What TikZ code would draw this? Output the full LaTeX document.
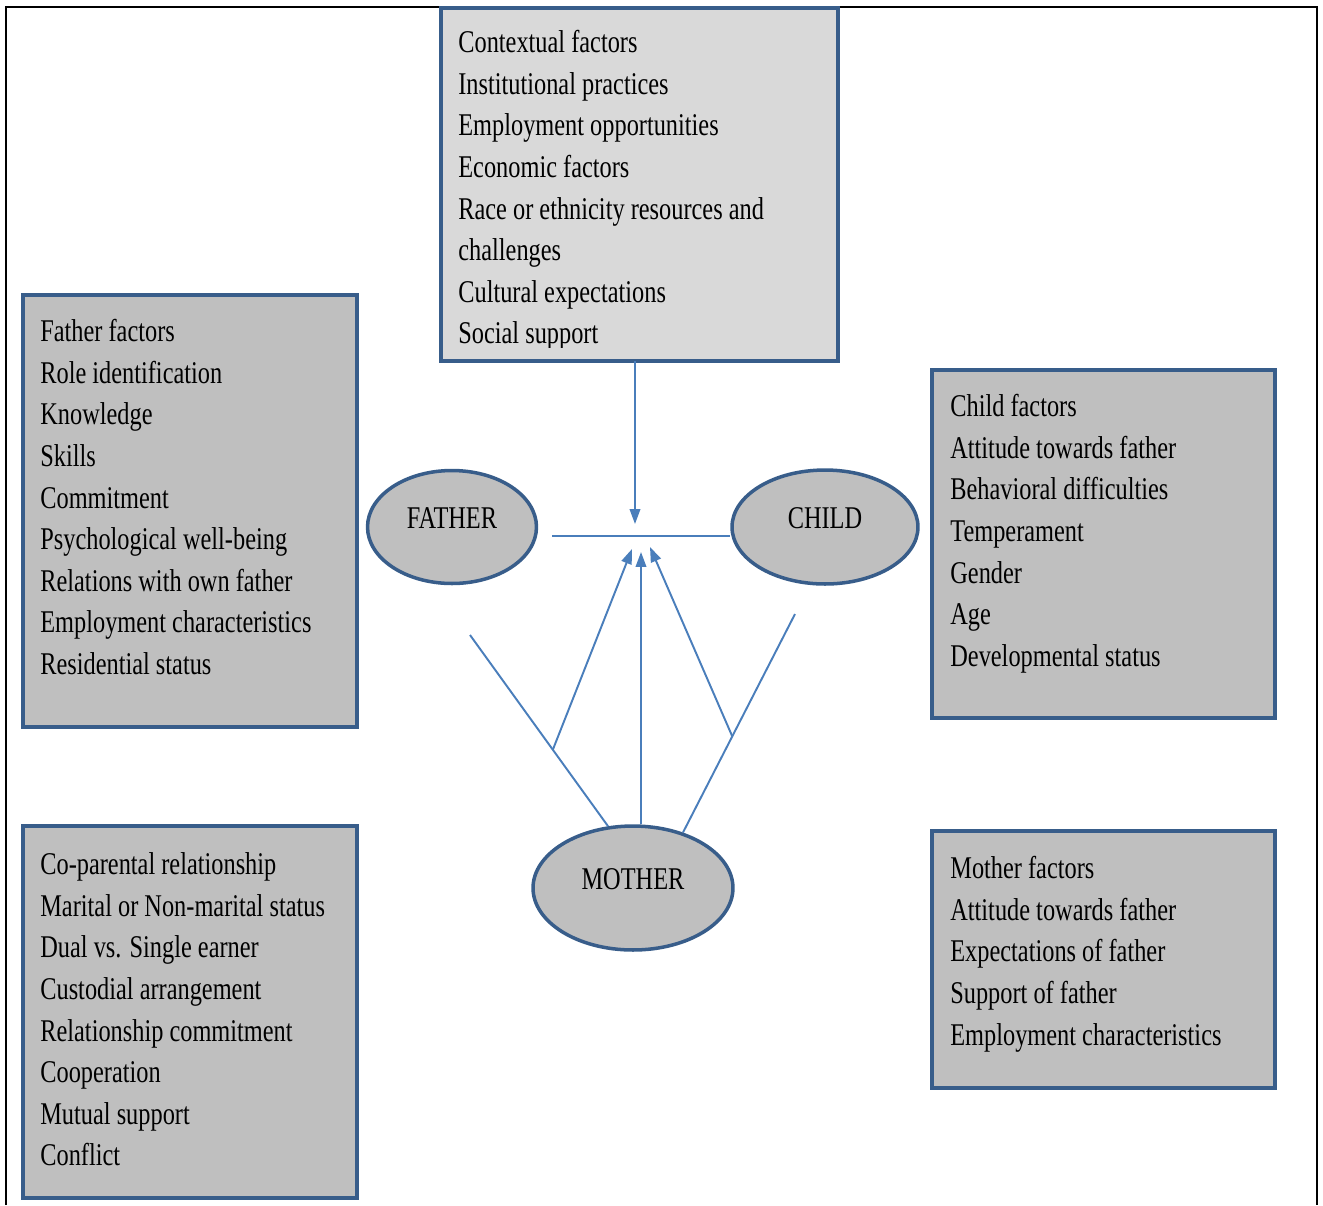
\documentclass[tikz,border=0pt]{standalone}
\usepackage{fontspec}
\newfontfamily\narrowserif[FakeStretch=0.77]{Liberation Serif}
\usetikzlibrary{calc}
\usetikzlibrary{shapes.geometric}
\usetikzlibrary{arrows.meta}
\definecolor{boxblue}{RGB}{56,93,138}
\definecolor{linkblue}{RGB}{74,126,187}
\definecolor{boxgray}{RGB}{191,191,191}
\definecolor{ctxgray}{RGB}{217,217,217}
\newcommand{\boxfont}{\narrowserif\fontsize{18pt}{23.7pt}\selectfont}
\newcommand{\firstrule}{\rule{0pt}{14pt}}

\begin{document}
\begin{tikzpicture}[x=0.02cm,y=-0.02cm,
	factorbox/.style={draw=boxblue,line width=2.2pt,fill=boxgray,anchor=north west,inner sep=0pt,outer sep=0pt},
	factortext/.style={anchor=north west,align=left,inner sep=0pt,font=\boxfont},
	parent/.style={ellipse,draw=boxblue,line width=2pt,fill=boxgray,inner sep=0pt,font=\boxfont,text depth=10pt},
	link/.style={draw=linkblue,line width=1.1pt},
	linkarrow/.style={link,-{Triangle[length=8.5pt,width=6pt]}}]
			\useasboundingbox (0,0) rectangle (1323,1205);
			% outer frame, open at the bottom
			\draw[line width=1pt] (6,1205) -- (6,7) -- (1317,7) -- (1317,1205);
			
			% factor boxes
			\node[factorbox,fill=ctxgray,minimum width=7.94cm,minimum height=7.06cm] (ctxbox) at (441,8) {};
			\node[factorbox,minimum width=6.68cm,minimum height=8.64cm] (fatherbox) at (23,295) {};
			\node[factorbox,minimum width=6.86cm,minimum height=6.96cm] (childbox) at (932,370) {};
			\node[factorbox,minimum width=6.68cm,minimum height=7.44cm] (coparbox) at (23,826) {};
			\node[factorbox,minimum width=6.86cm,minimum height=5.14cm] (motherbox) at (932,831) {};
			
			% box texts (last line of the top box is cut by its frame)
			\begin{scope}
				\clip (441,8) rectangle (838,347);
				\node[factortext] (ctxtext) at (458,27.5) {\firstrule Contextual factors\\Institutional practices\\Employment opportunities\\Economic factors\\Race or ethnicity resources and\\challenges\\Cultural expectations\\Social support};
			\end{scope}
			\node[factortext] (fathertext) at (40,316.5) {\firstrule Father factors\\Role identification\\Knowledge\\Skills\\Commitment\\Psychological well-being\\Relations with own father\\Employment characteristics\\Residential status};
			\node[factortext] (childtext) at (950,391.5) {\firstrule Child factors\\Attitude towards father\\Behavioral difficulties\\Temperament\\Gender\\Age\\Developmental status};
			\node[factortext] (copartext) at (40,849.5) {\firstrule Co-parental relationship\\Marital or Non-marital status\\Dual vs. Single earner\\Custodial arrangement\\Relationship commitment\\Cooperation\\Mutual support\\Conflict};
			\node[factortext] (mothertext) at (950,853.5) {\firstrule Mother factors\\Attitude towards father\\Expectations of father\\Support of father\\Employment characteristics};
			
			% the three people
			\node[parent,minimum width=3.38cm,minimum height=2.26cm] (father) at (452,527) {FATHER};
			\node[parent,minimum width=3.72cm,minimum height=2.28cm] (child) at (825,527) {CHILD};
			\node[parent,minimum width=4cm,minimum height=2.48cm] (mother) at (633,888) {MOTHER};
			
			% free ends and arrow tips
			\coordinate (meet) at (635,524);
			\coordinate (hleft) at (552,536);
			\coordinate (ltop) at (470,635);
			\coordinate (rtop) at (795,614);
			\coordinate (tipl) at (632,549);
			\coordinate (tipm) at (641,552);
			\coordinate (tipr) at (650,547);
			
			% context arrow and father--child line
			\draw[linkarrow] (ctxbox.south -| meet) -- (meet);
			\draw[link] (hleft) -- (hleft -| child.west);
			
			% lines from the mother
			\draw[link] (ltop) -- (mother.112);
			\draw[link] (rtop) -- (mother.48);
			\draw[linkarrow] ($(ltop)!0.6!(mother.112)$) -- (tipl);
			\draw[linkarrow] (tipm |- mother.north) -- (tipm);
			\draw[linkarrow] ($(rtop)!0.56!(mother.48)$) -- (tipr);
			
\end{tikzpicture}
\end{document}
